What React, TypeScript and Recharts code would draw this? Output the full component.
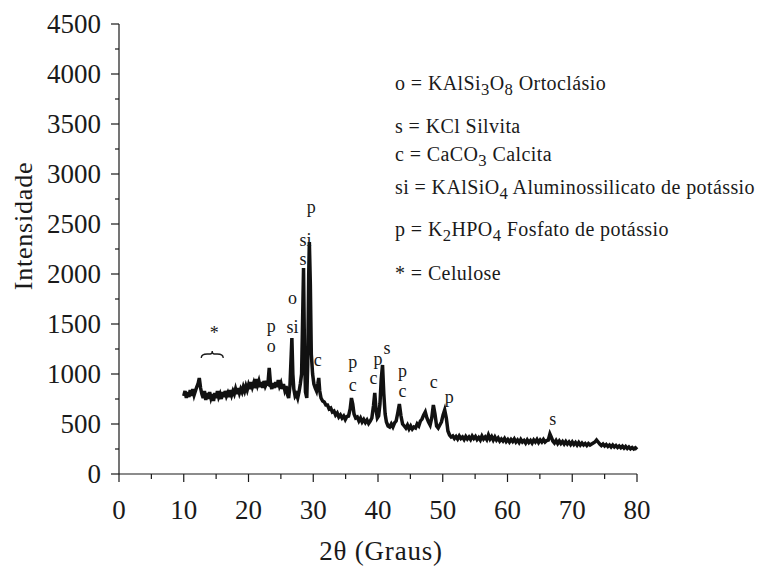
import React from "react";
import { ComposedChart, Line, Scatter, XAxis, YAxis } from "recharts";

// XRD pattern, as [2θ (degrees), intensity] pairs
const amorphousHump: [number, number][] = [
  [10.0, 780], [10.2, 830], [10.4, 760], [10.6, 820], [10.8, 770], [11.0, 840], [11.2, 780], [11.4, 850],
  [11.6, 790], [11.8, 830], [12.0, 870], [12.2, 900], [12.4, 960], [12.6, 860], [12.8, 800], [13.0, 760],
  [13.2, 830], [13.4, 740], [13.6, 810], [13.8, 750], [14.0, 820], [14.2, 760], [14.4, 800], [14.6, 730],
  [14.8, 810], [15.0, 760], [15.2, 830], [15.4, 770], [15.6, 800], [15.8, 750], [16.0, 820], [16.2, 770],
  [16.4, 830], [16.6, 780], [16.8, 810], [17.0, 770], [17.2, 840], [17.4, 790], [17.6, 830], [17.8, 800],
  [18.0, 850], [18.2, 800], [18.4, 860], [18.6, 810], [18.8, 850], [19.0, 820], [19.2, 870], [19.4, 830],
  [19.6, 880], [19.8, 840], [20.0, 890], [20.2, 850], [20.4, 920], [20.6, 870], [20.8, 910], [21.0, 860],
  [21.2, 950], [21.4, 890], [21.6, 930], [21.8, 870], [22.0, 920], [22.2, 860], [22.4, 930], [22.6, 880],
  [22.8, 910], [23.0, 900], [23.2, 1060], [23.4, 900], [23.6, 850], [23.8, 910], [24.0, 860], [24.2, 920],
  [24.4, 870], [24.6, 940], [24.8, 880], [25.0, 910], [25.2, 850], [25.4, 900], [25.6, 840], [25.8, 880],
  [26.0, 800], [26.2, 760], [26.4, 880],
];

const mainPeaks: [number, number][] = [
  [26.6, 1200], [26.7, 1360], [26.85, 1000], [27.0, 850], [27.2, 780], [27.4, 800], [27.6, 760], [27.8, 820],
  [28.0, 900], [28.2, 1000], [28.4, 1700], [28.5, 2060], [28.65, 1200], [28.8, 820], [29.0, 760], [29.15, 1100],
  [29.3, 2000], [29.4, 2320], [29.55, 1900], [29.7, 1200], [29.9, 1000], [30.1, 900], [30.3, 860], [30.5, 830],
  [30.7, 900], [30.85, 960], [31.0, 830], [31.2, 760],
];

const midAngle: [number, number][] = [
  [31.45, 730], [31.7, 720], [31.95, 690], [32.2, 690], [32.45, 650], [32.7, 660], [32.95, 620], [33.2, 630],
  [33.45, 590], [33.7, 610], [33.95, 570], [34.2, 590], [34.45, 560], [34.7, 580], [34.95, 545], [35.2, 575],
  [35.45, 580], [35.7, 650], [35.9, 760], [36.1, 700], [36.3, 600], [36.55, 560], [36.8, 570], [37.05, 530],
  [37.3, 560], [37.55, 520], [37.8, 545], [38.05, 515], [38.3, 540], [38.55, 505], [38.8, 530], [39.05, 560],
  [39.3, 680], [39.5, 810], [39.7, 640], [39.9, 560], [40.1, 580], [40.3, 700], [40.5, 950], [40.7, 1090],
  [40.9, 800], [41.1, 600], [41.3, 520], [41.55, 480], [41.8, 470], [42.05, 500], [42.3, 470], [42.55, 510],
  [42.8, 530], [43.05, 610], [43.3, 700], [43.55, 580], [43.8, 500], [44.05, 480], [44.3, 460], [44.55, 490],
  [44.8, 450], [45.05, 480], [45.3, 450], [45.55, 470], [45.8, 460], [46.05, 500], [46.3, 480], [46.55, 530],
  [46.8, 550], [47.05, 590], [47.3, 620], [47.55, 560], [47.8, 520], [48.05, 490], [48.3, 560], [48.55, 690],
  [48.8, 600], [49.05, 480], [49.3, 460], [49.55, 490], [49.8, 520], [50.05, 590], [50.3, 640], [50.55, 560],
  [50.8, 430], [51.05, 390],
];

const highAngle: [number, number][] = [
  [51.3, 370], [51.55, 380], [51.8, 355], [52.05, 375], [52.3, 350], [52.55, 380], [52.8, 355], [53.05, 370],
  [53.3, 345], [53.55, 375], [53.8, 350], [54.05, 370], [54.3, 345], [54.55, 380], [54.8, 355], [55.05, 375],
  [55.3, 345], [55.55, 365], [55.8, 340], [56.05, 380], [56.3, 350], [56.55, 370], [56.8, 345], [57.05, 390],
  [57.3, 350], [57.55, 375], [57.8, 340], [58.05, 370], [58.3, 340], [58.55, 360], [58.8, 330], [59.05, 350],
  [59.3, 330], [59.55, 355], [59.8, 325], [60.05, 345], [60.3, 320], [60.55, 345], [60.8, 325], [61.05, 350],
  [61.3, 320], [61.55, 340], [61.8, 315], [62.05, 345], [62.3, 320], [62.55, 335], [62.8, 310], [63.05, 340],
  [63.3, 315], [63.55, 335], [63.8, 310], [64.05, 340], [64.3, 320], [64.55, 345], [64.8, 315], [65.05, 340],
  [65.3, 320], [65.55, 345], [65.8, 320], [66.05, 335], [66.3, 340], [66.55, 400], [66.75, 370], [67.0, 330],
  [67.25, 310], [67.5, 335], [67.75, 305], [68.0, 330], [68.25, 305], [68.5, 325], [68.75, 300], [69.0, 325],
  [69.25, 300], [69.5, 320], [69.75, 295], [70.0, 320], [70.25, 295], [70.5, 315], [70.75, 290], [71.0, 315],
  [71.25, 290], [71.5, 310], [71.75, 290], [72.0, 305], [72.25, 285], [72.5, 305], [72.75, 290], [73.0, 300],
  [73.25, 310], [73.5, 320], [73.75, 340], [74.0, 320], [74.25, 300], [74.5, 285], [74.75, 300], [75.0, 280],
  [75.25, 295], [75.5, 275], [75.75, 290], [76.0, 270], [76.25, 290], [76.5, 270], [76.75, 285], [77.0, 265],
  [77.25, 280], [77.5, 262], [77.75, 278], [78.0, 258], [78.25, 275], [78.5, 255], [78.75, 270], [79.0, 252],
  [79.25, 265], [79.5, 250], [79.75, 262], [80.0, 245],
];

// phase letters written over the peaks
const peakLabels = ["*", "brace", "p", "o", "o", "si", "s", "si", "p", "c", "p", "c", "c", "p", "s", "p", "c", "c", "p", "s"];
const peakX = [14.7, 14.4, 23.5, 23.5, 26.8, 26.8, 28.4, 28.8, 29.7, 30.7, 36.1, 36.1, 39.3, 40.0, 41.4, 43.8, 43.8, 48.6, 51.0, 67.0];
const peakY = [1410, 1200, 1480, 1285, 1757, 1473, 2150, 2345, 2673, 1140, 1125, 895, 965, 1150, 1260, 1035, 835, 923, 773, 547];

const yTicks = [0, 250, 500, 750, 1000, 1250, 1500, 1750, 2000, 2250, 2500, 2750, 3000, 3250, 3500, 3750, 4000, 4250, 4500];
const xTicks = [0, 5, 10, 15, 20, 25, 30, 35, 40, 45, 50, 55, 60, 65, 70, 75, 80];

const spectrum = [...amorphousHump, ...mainPeaks, ...midAngle, ...highAngle].map(([x, y]) => ({ x, y }));
const annotations = peakLabels.map((label, i) => ({ label, x: peakX[i], y: peakY[i] }));

const FONT = "'Liberation Serif', 'Times New Roman', serif";
const INK = "#1a1a1a";

function YTick({ x, y, payload }: any) {
  const major = payload.value % 500 === 0;
  return (
    <g>
      <line x1={x} x2={x - (major ? 8 : 4)} y1={y} y2={y} stroke={INK} strokeWidth={1.2} />
      {major && (
        <text x={x - 18} y={y} textAnchor="end" dominantBaseline="central" fontFamily={FONT} fontSize={27} fill={INK}>
          {payload.value}
        </text>
      )}
    </g>
  );
}

function XTick({ x, y, payload }: any) {
  const major = payload.value % 10 === 0;
  return (
    <g>
      <line x1={x} x2={x} y1={y} y2={y + (major ? 8 : 5)} stroke={INK} strokeWidth={1.2} />
      {major && (
        <text x={x} y={y + 36} textAnchor="middle" dominantBaseline="central" fontFamily={FONT} fontSize={27} fill={INK}>
          {payload.value}
        </text>
      )}
    </g>
  );
}

function PeakLabel({ cx, cy, payload }: any) {
  if (payload.label === "brace") {
    return (
      <path
        d={`M${cx - 11},${cy + 4} Q${cx - 11},${cy} ${cx - 5},${cy} L${cx - 2},${cy} Q${cx},${cy} ${cx},${cy - 3} Q${cx},${cy} ${cx + 2},${cy} L${cx + 5},${cy} Q${cx + 11},${cy} ${cx + 11},${cy + 4}`}
        fill="none"
        stroke={INK}
        strokeWidth={1.3}
      />
    );
  }
  return (
    <text x={cx} y={cy} textAnchor="middle" dominantBaseline="central" fontFamily={FONT} fontSize={18} fill={INK}>
      {payload.label}
    </text>
  );
}

const legendLines: { top: number; content: React.ReactNode }[] = [
  { top: 86, content: <>o = KAlSi<sub>3</sub>O<sub>8</sub> Ortoclásio</> },
  { top: 126, content: <>s = KCl Silvita</> },
  { top: 157, content: <>c = CaCO<sub>3</sub> Calcita</> },
  { top: 190, content: <>si = KAlSiO<sub>4</sub> Aluminossilicato de potássio</> },
  { top: 232, content: <>p = K<sub>2</sub>HPO<sub>4</sub> Fosfato de potássio</> },
  { top: 273, content: <>* = Celulose</> },
];

export default function App() {
  return (
    <div style={{ position: "absolute", left: 0, top: 0, width: 760, height: 566, background: "#fff", overflow: "hidden" }}>
      <ComposedChart width={760} height={566} data={spectrum} margin={{ top: 24, right: 123, left: 0, bottom: 32 }}>
        <XAxis
          type="number"
          dataKey="x"
          domain={[0, 80]}
          ticks={xTicks}
          interval={0}
          tickSize={0}
          tickMargin={0}
          tickLine={false}
          height={60}
          axisLine={{ stroke: INK, strokeWidth: 1.2 }}
          tick={<XTick />}
        />
        <YAxis
          type="number"
          domain={[0, 4500]}
          ticks={yTicks}
          interval={0}
          tickSize={0}
          tickMargin={0}
          tickLine={false}
          width={119}
          axisLine={{ stroke: INK, strokeWidth: 1.2 }}
          tick={<YTick />}
        />
        <Line
          type="linear"
          dataKey="y"
          stroke="#111"
          strokeWidth={3.5}
          dot={false}
          isAnimationActive={false}
        />
        <Scatter data={annotations} dataKey="y" shape={<PeakLabel />} isAnimationActive={false} />
      </ComposedChart>

      <div
        style={{
          position: "absolute",
          left: 24,
          top: 226,
          transform: "translate(-50%, -50%) rotate(-90deg)",
          fontFamily: FONT,
          fontSize: 26,
          letterSpacing: 0.8,
          color: INK,
          whiteSpace: "nowrap",
        }}
      >
        Intensidade
      </div>
      <div
        style={{
          position: "absolute",
          left: 381,
          top: 551,
          transform: "translate(-50%, -50%)",
          fontFamily: FONT,
          fontSize: 27,
          letterSpacing: 0.8,
          color: INK,
          whiteSpace: "nowrap",
        }}
      >
        2θ (Graus)
      </div>

      {legendLines.map((l, i) => (
        <div
          key={i}
          style={{
            position: "absolute",
            left: 395,
            top: l.top,
            transform: "translateY(-50%)",
            fontFamily: FONT,
            fontSize: 20,
            letterSpacing: 0.4,
            lineHeight: "22px",
            color: INK,
            whiteSpace: "nowrap",
          }}
        >
          {l.content}
        </div>
      ))}
    </div>
  );
}
